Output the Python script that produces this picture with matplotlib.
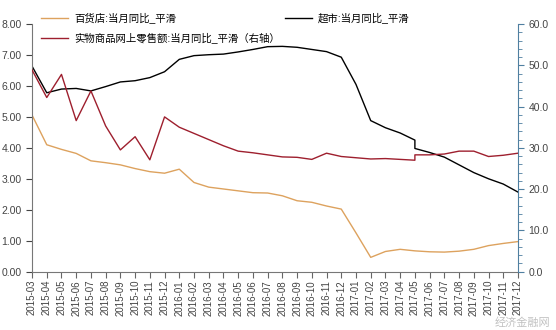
import matplotlib.pyplot as plt
from matplotlib.ticker import MultipleLocator, FormatStrFormatter

plt.rcParams['font.family'] = ['Liberation Sans', 'Noto Sans CJK SC']

# month labels on the x axis
months = ["2015-03", "2015-04", "2015-05", "2015-06", "2015-07", "2015-08",
          "2015-09", "2015-10", "2015-11", "2015-12", "2016-01", "2016-02",
          "2016-03", "2016-04", "2016-05", "2016-06", "2016-07", "2016-08",
          "2016-09", "2016-10", "2016-11", "2016-12", "2017-01", "2017-02",
          "2017-03", "2017-04", "2017-05", "2017-06", "2017-07", "2017-08",
          "2017-09", "2017-10", "2017-11", "2017-12"]

# observation dates (2017-05 appears twice: series break)
dates = months[:27] + ["2017-05"] + months[27:]

# 百货店 (left axis)
dept_store = [5.06, 4.10, 3.95, 3.82, 3.58, 3.52, 3.45, 3.33, 3.23, 3.18,
              3.31, 2.88, 2.73, 2.67, 2.61, 2.55, 2.54, 2.45, 2.29, 2.24,
              2.12, 2.02, 1.25, 0.46, 0.65, 0.72, 0.67, 0.67, 0.64, 0.63,
              0.66, 0.72, 0.84, 0.91, 0.97]

# 超市 (left axis)
supermarket = [6.64, 5.78, 5.90, 5.92, 5.84, 5.98, 6.13, 6.17, 6.27, 6.46,
               6.86, 6.98, 7.01, 7.03, 7.10, 7.18, 7.27, 7.28, 7.25, 7.18,
               7.11, 6.93, 6.05, 4.88, 4.65, 4.48, 4.25, 3.98, 3.85, 3.70,
               3.45, 3.20, 3.00, 2.83, 2.57]

# 实物商品网上零售额 (right axis)
online = [48.9, 42.2, 47.8, 36.6, 43.8, 35.3, 29.5, 32.7, 27.1, 37.5,
          35.0, 33.5, 32.0, 30.5, 29.2, 28.8, 28.3, 27.8, 27.7, 27.2,
          28.7, 27.9, 27.6, 27.3, 27.4, 27.2, 27.0, 28.3, 28.3, 28.5,
          29.2, 29.2, 27.9, 28.2, 28.7]

x = [months.index(d) for d in dates]

fig = plt.figure(figsize=(5.56, 3.30), dpi=100)
ax = fig.add_axes([0.0576, 0.177, 0.874, 0.750])
ax2 = ax.twinx()

l1, = ax.plot(x, dept_store, color="#DDA25E", lw=1.0, label="百货店:当月同比_平滑")
l3, = ax.plot(x, supermarket, color="black", lw=1.0, label="超市:当月同比_平滑")
l2, = ax2.plot(x, online, color="#9E1F2E", lw=1.0, label="实物商品网上零售额:当月同比_平滑（右轴）")

ax.set_xlim(0, len(months) - 1)
ax.set_ylim(0, 8)
ax2.set_ylim(0, 60)

ax.set_xticks(range(len(months)))
ax.set_xticklabels(months, rotation=90, fontsize=7, color="#444444")
ax.yaxis.set_major_locator(MultipleLocator(1))
ax.yaxis.set_major_formatter(FormatStrFormatter("%.2f"))
ax2.yaxis.set_major_locator(MultipleLocator(10))
ax2.yaxis.set_minor_locator(MultipleLocator(2))
ax2.yaxis.set_major_formatter(FormatStrFormatter("%.1f"))

ax.tick_params(axis="y", labelsize=7.5, colors="#444444", length=4, width=0.8)
ax.tick_params(axis="x", length=4, width=0.8, color="#666666", pad=2)
ax2.tick_params(axis="y", labelsize=7.5, colors="#444444", length=4, width=0.8)
ax2.tick_params(axis="y", which="both", color="#4F7FA0")
ax2.tick_params(axis="y", which="minor", length=3, width=0.6)

for a in (ax, ax2):
    a.spines["top"].set_visible(False)
ax.spines["right"].set_visible(False)
ax.spines["left"].set_color("#777777")
ax.spines["bottom"].set_color("#777777")
ax2.spines["left"].set_visible(False)
ax2.spines["bottom"].set_visible(False)
ax2.spines["right"].set_color("#4F7FA0")

leg = ax.legend(handles=[l1, l2, l3], ncol=2, frameon=False, fontsize=7.5,
                loc="upper left", bbox_to_anchor=(0.0, 1.085),
                handlelength=2.6, handletextpad=0.6, columnspacing=0.4,
                labelspacing=0.85)

fig.text(0.99, 0.005, "经济金融网", fontsize=8, color="#999999", alpha=0.6,
         ha="right", va="bottom")

fig.savefig("out.png", dpi=100)
